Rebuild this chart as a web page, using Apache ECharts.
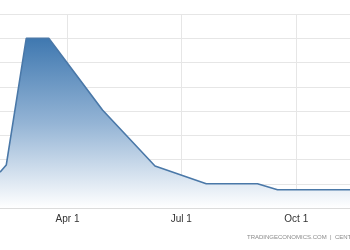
<!DOCTYPE html>
<html><head><meta charset="utf-8">
<script src="https://cdn.jsdelivr.net/npm/echarts@6/dist/echarts.min.js"></script>
<style>html,body{margin:0;padding:0;background:#fff}#c{width:350px;height:250px}</style>
</head><body><div id="c"></div>
<script>
const dates = ['02-06','02-11','02-27','03-17','04-29','06-10','07-21','08-31','09-16','11-13'];
const values = [1.48, 1.77, 7.0, 7.0, 4.04, 1.73, 1.0, 1.0, 0.75, 0.75];
const tickDates = ['04-01','07-01','10-01'];
const tickLabels = ['Apr 1','Jul 1','Oct 1'];
const xMinDate = '02-06', xMaxDate = '11-13';
const watermark = 'TRADINGECONOMICS.COM  |  CENTRAL BANK';

function dayOf(s){const [m,d]=s.split('-').map(Number);return (Date.UTC(2015,m-1,d)-Date.UTC(2015,0,1))/86400000;}
const tickDays = tickDates.map(dayOf);
const chart = echarts.init(document.getElementById('c'));
chart.setOption({
  animation:false,
  grid:{left:0,right:0,top:14,bottom:42},
  xAxis:{type:'value',min:dayOf(xMinDate),max:dayOf(xMaxDate),
    axisLine:{show:true,lineStyle:{color:'#dcdcdc'}},
    axisTick:{show:false,customValues:tickDays},
    axisLabel:{customValues:tickDays,color:'#333',fontSize:10,fontFamily:'Arial, Liberation Sans',margin:6,
      formatter:v=>tickLabels[tickDays.indexOf(Math.round(v))]||''},
    splitLine:{show:true,lineStyle:{color:'#e6e6e6',width:1}}},
  yAxis:{type:'value',min:0,max:8,interval:1,axisLabel:{show:false},axisLine:{show:false},axisTick:{show:false},
    splitLine:{lineStyle:{color:'#e6e6e6',width:1}}},
  graphic:[{type:'text',left:247,top:234,style:{text:watermark,fill:'#8a8a8a',fontSize:6,fontFamily:'Arial, Liberation Sans'}}],
  series:[{type:'line',data:dates.map((d,i)=>[dayOf(d),values[i]]),symbol:'none',
    lineStyle:{color:'#4a78a8',width:1.6},
    areaStyle:{opacity:1,color:new echarts.graphic.LinearGradient(0,0,0,1,[{offset:0,color:'#3f78b0'},{offset:0.5,color:'#94b4d5'},{offset:1,color:'#ffffff'}])}}]
});
</script></body></html>
